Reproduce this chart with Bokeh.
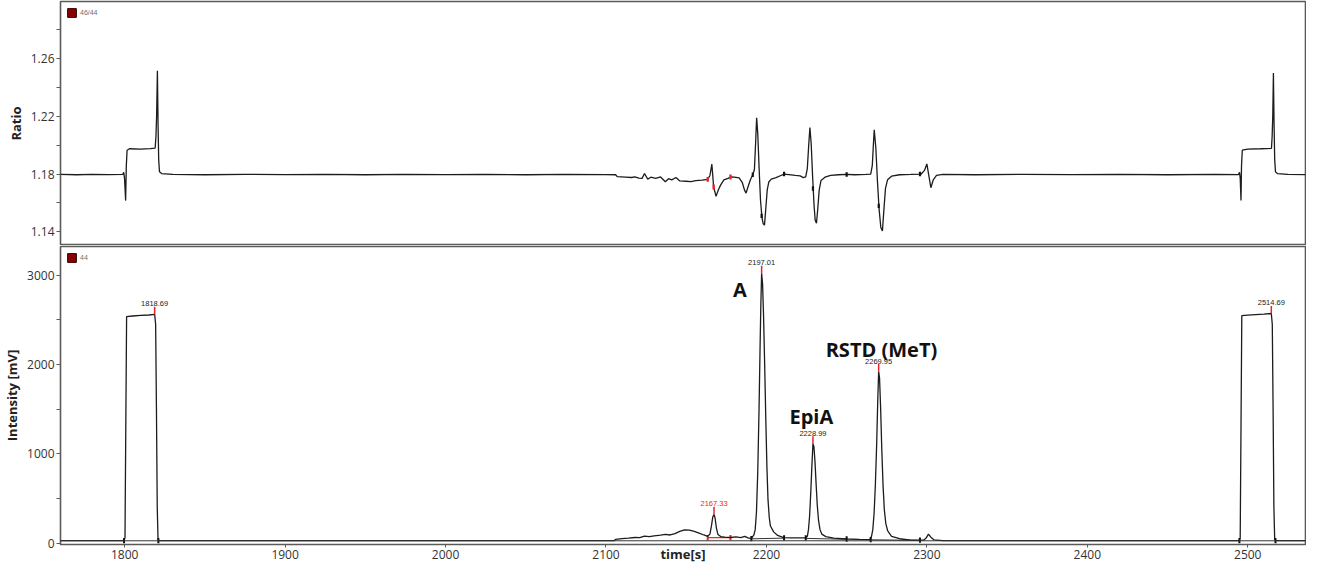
from bokeh.plotting import figure
from bokeh.layouts import column
from bokeh.models import Range1d, FixedTicker, Legend, LegendItem, Span
from bokeh.core.properties import value
from bokeh.embed import file_html
from bokeh.resources import INLINE

# ---------------- data ----------------
# 46/44 ratio trace (time [s], ratio)
ratio_trace = [
    (1760.0, 1.1797), (1770, 1.1795), (1780, 1.1798), (1790, 1.1796), (1798.8, 1.1797),
    (1799.4, 1.1812), (1799.9, 1.1772), (1800.6, 1.1616), (1801.0, 1.1850), (1801.5, 1.1965),
    (1803, 1.1975), (1810, 1.1972), (1816, 1.1976), (1819.0, 1.1980), (1819.5, 1.2060),
    (1819.9, 1.2200), (1820.4, 1.2516), (1820.8, 1.2150), (1821.2, 1.1900), (1821.7, 1.1815),
    (1823, 1.1803), (1830, 1.1797), (1850, 1.1795), (1875, 1.1798), (1900, 1.1796),
    (1925, 1.1797), (1950, 1.1795), (1975, 1.1798), (2000, 1.1796), (2025, 1.1797),
    (2050, 1.1795), (2075, 1.1797), (2100, 1.1796), (2106, 1.1795), (2107, 1.1782),
    (2112, 1.1779), (2116, 1.1776), (2118, 1.1781), (2120.5, 1.1772), (2122.5, 1.1770),
    (2124, 1.1804), (2126, 1.1765), (2128, 1.1778), (2131, 1.1770), (2134, 1.1780),
    (2137, 1.1747), (2139, 1.1768), (2141, 1.1760), (2143.6, 1.1776), (2146, 1.1752),
    (2149.8, 1.1750), (2153, 1.1748), (2156, 1.1755), (2160, 1.1758), (2163.4, 1.1763),
    (2164.8, 1.1790), (2166.0, 1.1868), (2167.1, 1.1710), (2168.6, 1.1645), (2170.0, 1.1690),
    (2171.5, 1.1725), (2173.5, 1.1760), (2176, 1.1770), (2178, 1.1780), (2180, 1.1778),
    (2183, 1.1773), (2185, 1.1740), (2186.3, 1.1690), (2187.3, 1.1668), (2188.5, 1.1710),
    (2190, 1.1760), (2191.5, 1.1795), (2192.5, 1.1830), (2193.2, 1.2000), (2193.9, 1.2190),
    (2194.6, 1.2080), (2195.4, 1.1850), (2196.3, 1.1620), (2197.2, 1.1500), (2198.0, 1.1455),
    (2198.8, 1.1446), (2199.6, 1.1560), (2200.5, 1.1690), (2201.5, 1.1745), (2203, 1.1765),
    (2206, 1.1775), (2209, 1.1790), (2211, 1.1800), (2214, 1.1796), (2218, 1.1790),
    (2221, 1.1787), (2223, 1.1775), (2224.5, 1.1780), (2225.5, 1.1840), (2226.3, 1.1990),
    (2227.1, 1.2122), (2227.9, 1.2010), (2228.8, 1.1780), (2229.7, 1.1580), (2230.4, 1.1480),
    (2231.2, 1.1459), (2232.0, 1.1560), (2232.9, 1.1690), (2234.0, 1.1755), (2236.5, 1.1778),
    (2240, 1.1790), (2245, 1.1795), (2250, 1.1797), (2255, 1.1795), (2262, 1.1797),
    (2265, 1.1800), (2266.0, 1.1860), (2266.6, 1.1990), (2267.2, 1.2107), (2268.2, 1.1980),
    (2269.2, 1.1750), (2270.2, 1.1560), (2271.3, 1.1430), (2272.3, 1.1405), (2273.2, 1.1550),
    (2274.2, 1.1700), (2275.5, 1.1760), (2278, 1.1785), (2283, 1.1795), (2290, 1.1797),
    (2296.5, 1.1800), (2298.5, 1.1825), (2300.0, 1.1870), (2301.2, 1.1790), (2302.5, 1.1705),
    (2304, 1.1760), (2306, 1.1790), (2310, 1.1797), (2330, 1.1795), (2360, 1.1798),
    (2390, 1.1796), (2420, 1.1797), (2450, 1.1795), (2480, 1.1797), (2494.2, 1.1796),
    (2494.9, 1.1812), (2495.3, 1.1772), (2495.8, 1.1616), (2496.1, 1.1850), (2496.6, 1.1965),
    (2500, 1.1972), (2508, 1.1975), (2514.8, 1.1978), (2515.2, 1.2060), (2515.6, 1.2200),
    (2516.0, 1.2500), (2516.4, 1.2150), (2516.8, 1.1900), (2517.3, 1.1815), (2518.5, 1.1803),
    (2525, 1.1797), (2536, 1.1796),
]

# mass 44 intensity trace (time [s], mV)
intensity_trace = [
    (1760.0, 27), (1799.6, 27), (1800.2, 60), (1800.7, 1300), (1801.2, 2535), (1805, 2542),
    (1810, 2548), (1815, 2553), (1818.69, 2560), (1819.3, 2450), (1819.8, 1500), (1820.3, 400),
    (1820.8, 40), (1821.5, 27), (2105, 27), (2106, 40), (2110, 50), (2114, 55), (2118, 62),
    (2121, 60), (2124, 78), (2127, 72), (2130, 80), (2134, 88), (2137, 96), (2140, 90),
    (2143, 105), (2146, 130), (2149, 148), (2152, 145), (2155, 130), (2158, 110), (2161, 90),
    (2163.4, 75), (2164.8, 100), (2165.8, 200), (2166.6, 295), (2167.33, 320), (2168.0, 280),
    (2168.8, 170), (2169.8, 95), (2171.5, 72), (2174, 65), (2177.6, 62), (2181, 68), (2184, 60),
    (2186.5, 75), (2188.5, 58), (2190.6, 50), (2192.2, 90), (2193.0, 150), (2193.8, 350),
    (2194.6, 800), (2195.4, 1500), (2196.0, 2150), (2196.5, 2650), (2197.01, 3020),
    (2197.6, 2900), (2198.2, 2550), (2198.9, 2000), (2199.6, 1400), (2200.3, 850),
    (2201.0, 480), (2201.8, 280), (2202.5, 190), (2204.5, 125), (2207, 85), (2210.7, 60),
    (2215, 58), (2220, 57), (2224.5, 58), (2225.5, 75), (2226.2, 150), (2226.9, 300),
    (2227.6, 550), (2228.3, 850), (2228.99, 1110), (2229.6, 1080), (2230.3, 900),
    (2231.0, 650), (2231.7, 420), (2232.5, 250), (2233.4, 150), (2234.5, 100), (2237, 72),
    (2242, 55), (2250, 45), (2258, 41), (2264.5, 38), (2265.5, 75), (2266.3, 150),
    (2267.1, 330), (2267.9, 650), (2268.7, 1100), (2269.4, 1600), (2269.95, 1920),
    (2270.5, 1850), (2271.2, 1500), (2271.9, 1050), (2272.7, 640), (2273.5, 370),
    (2274.4, 220), (2275.5, 140), (2278, 75), (2283, 48), (2290, 33), (2298, 32),
    (2299.5, 55), (2301, 100), (2302.5, 65), (2304.5, 35), (2310, 28), (2494.8, 27),
    (2495.3, 60), (2495.8, 1300), (2496.3, 2545), (2500, 2552), (2505, 2558), (2510, 2563),
    (2514.69, 2570), (2515.3, 2450), (2515.8, 1500), (2516.3, 400), (2516.8, 40),
    (2517.5, 27), (2536, 27),
]

# labelled peak apexes
peak_times = [1818.69, 2167.33, 2197.01, 2228.99, 2269.95, 2514.69]
peak_heights = [2560, 320, 3020, 1110, 1920, 2570]
peak_labels = ["1818.69", "2167.33", "2197.01", "2228.99", "2269.95", "2514.69"]
peak_label_colors = ["#222222", "#e8262a", "#222222", "#222222", "#222222", "#222222"]

# integration boundaries on the 44 trace
boundary_times = [1799.6, 1821.0, 2190.6, 2211.0, 2224.5, 2250.0, 2265.0, 2295.7, 2494.8, 2517.3]
boundary_levels = [27, 27, 50, 58, 58, 45, 38, 32, 27, 27]
base_start_t = [2190.6, 2224.5, 2265.0]
base_end_t = [2211.0, 2250.0, 2295.7]
base_start_h = [47, 52, 36]
base_end_h = [55, 42, 30]
red_base_t = [2163.4, 2177.6]
red_base_h = [60, 60]
baseline_level = 25

# markers on the ratio trace
ratio_red_t = [2163.4, 2167.1, 2177.6]
ratio_red_v = [1.1763, 1.1710, 1.1779]
ratio_black_t = [2191.5, 2197.0, 2211.0, 2229.0, 2250.0, 2270.0, 2295.7]
ratio_black_v = [1.1795, 1.1510, 1.1800, 1.1700, 1.1797, 1.1580, 1.1800]

# compound names
compound_names = ["A", "EpiA", "RSTD (MeT)"]
compound_t = [2183.4, 2228.0, 2271.7]
compound_h = [2836, 1412, 2164]

ratio_ticks = [1.14, 1.18, 1.22, 1.26]
ratio_minor = [1.16, 1.20, 1.24, 1.28]
int_ticks = [0, 1000, 2000, 3000]
int_minor = [500, 1500, 2500]
time_ticks = [1800, 1900, 2000, 2100, 2200, 2300, 2400, 2500]

# ---------------- styling ----------------
FONT = "Open Sans"
FRAME = "#5a5a5a"
TRACE = "#1c1c1c"
LEFT = 54
W = 1306

ratio_t = [a for a, b in ratio_trace]
ratio_v = [b for a, b in ratio_trace]
int_t = [a for a, b in intensity_trace]
int_v = [b for a, b in intensity_trace]

xr = Range1d(1760.0, 2536.0)


def style(p):
    p.xgrid.visible = False
    p.ygrid.visible = False
    p.outline_line_color = FRAME
    p.outline_line_width = 1.6
    p.background_fill_color = "white"
    p.border_fill_color = "white"
    for ax in p.yaxis:
        ax.axis_line_color = None
        ax.major_tick_line_color = FRAME
        ax.minor_tick_line_color = FRAME
        ax.major_tick_in = 0
        ax.major_tick_out = 4
        ax.minor_tick_in = 0
        ax.minor_tick_out = 4
        ax.major_label_standoff = 2
        ax.major_label_text_font = FONT
        ax.major_label_text_font_size = "12px"
        ax.major_label_text_color = "#333333"
        ax.axis_label_text_font = FONT
        ax.axis_label_text_font_style = "bold"
        ax.axis_label_text_font_size = "13px"
        ax.axis_label_text_color = "#222222"
        ax.axis_label_standoff = 3


def add_legend(p, label, y_start):
    # legend swatch only: the renderer itself is hidden
    r = p.quad(left=[xr.start], right=[xr.start], bottom=[y_start], top=[y_start],
               fill_color="#8b0000", line_color="#3a0000", line_width=1)
    r.visible = False
    lg = Legend(items=[LegendItem(label=label, renderers=[r])], location="top_left")
    lg.glyph_width = 11
    lg.glyph_height = 11
    lg.label_height = 11
    lg.label_standoff = 3
    lg.label_text_font = "Liberation Sans"
    lg.label_text_font_size = "7px"
    lg.label_text_color = "#707070"
    lg.padding = 0
    lg.margin = 6
    lg.spacing = 0
    lg.border_line_color = None
    lg.background_fill_alpha = 0
    lg.click_policy = "none"
    p.add_layout(lg)


# ---------------- top panel: ratio ----------------
p1 = figure(width=W, height=245, x_range=xr, y_range=Range1d(1.1305, 1.2995),
            x_axis_location=None, output_backend="svg", toolbar_location=None,
            min_border_left=LEFT, min_border_right=1, min_border_top=1, min_border_bottom=0)
p1.yaxis.ticker = FixedTicker(ticks=ratio_ticks, minor_ticks=ratio_minor)
p1.yaxis.axis_label = "Ratio"
style(p1)
p1.line(ratio_t, ratio_v, line_color=TRACE, line_width=1.3)
p1.segment(x0=ratio_black_t, x1=ratio_black_t,
           y0=[v - 0.0015 for v in ratio_black_v], y1=[v + 0.0015 for v in ratio_black_v],
           line_color="#111111", line_width=2.2)
p1.segment(x0=ratio_red_t, x1=ratio_red_t,
           y0=[v - 0.0017 for v in ratio_red_v], y1=[v + 0.0017 for v in ratio_red_v],
           line_color="#e8262a", line_width=2.4)
add_legend(p1, "46/44", 1.1305)

# ---------------- bottom panel: intensity ----------------
p2 = figure(width=W, height=320, x_range=xr, y_range=Range1d(-16.5, 3320),
            output_backend="svg", toolbar_location=None,
            min_border_left=LEFT, min_border_right=1, min_border_top=1, min_border_bottom=20)
p2.yaxis.ticker = FixedTicker(ticks=int_ticks, minor_ticks=int_minor)
p2.yaxis.axis_label = "Intensity [mV]"
style(p2)
xa = p2.xaxis[0]
xa.ticker = FixedTicker(ticks=time_ticks)
xa.axis_line_color = None
xa.major_tick_line_color = FRAME
xa.minor_tick_line_color = None
xa.major_tick_in = 0
xa.major_tick_out = 3
xa.major_label_standoff = 2
xa.major_label_text_font = FONT
xa.major_label_text_font_size = "12px"
xa.major_label_text_color = "#333333"
xa.axis_label = "time[s]"
xa.axis_label_text_font = FONT
xa.axis_label_text_font_style = "bold"
xa.axis_label_text_font_size = "13px"
xa.axis_label_text_color = "#222222"
xa.axis_label_standoff = -17

p2.add_layout(Span(location=baseline_level, dimension="width", line_color="#333333", line_width=1))
p2.segment(x0=base_start_t, x1=base_end_t, y0=base_start_h, y1=base_end_h,
           line_color="#333333", line_width=1)
p2.line(red_base_t, red_base_h, line_color="#e8262a", line_width=1.3)
p2.segment(x0=red_base_t, x1=red_base_t, y0=[h - 30 for h in red_base_h],
           y1=[h + 30 for h in red_base_h], line_color="#e8262a", line_width=2)
p2.line(int_t, int_v, line_color=TRACE, line_width=1.3)
p2.segment(x0=boundary_times, x1=boundary_times, y0=[h - 30 for h in boundary_levels],
           y1=[h + 30 for h in boundary_levels], line_color="#111111", line_width=2)
p2.segment(x0=peak_times, x1=peak_times, y0=peak_heights, y1=[h + 85 for h in peak_heights],
           line_color="#e8262a", line_width=1.5)
p2.text(x=peak_times, y=peak_heights, text=peak_labels, text_color=peak_label_colors,
        text_font=value("Liberation Sans"), text_font_size="7.5px",
        text_align="center", text_baseline="bottom", y_offset=-8)
p2.text(x=compound_t, y=compound_h, text=compound_names, text_color="#111111",
        text_font=value(FONT), text_font_style="bold", text_font_size="20px",
        text_align="center", text_baseline="alphabetic")
add_legend(p2, "44", -16.5)

layout = column(p1, p2)
open("out.html", "w").write(file_html(layout, INLINE))
